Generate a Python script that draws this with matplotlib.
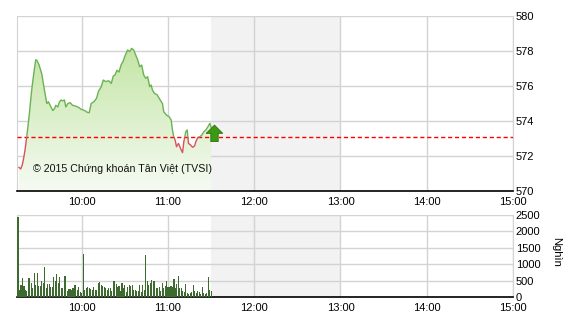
import numpy as np
import matplotlib
matplotlib.use("Agg")
import matplotlib.pyplot as plt
from matplotlib.patches import Rectangle
from matplotlib.path import Path

# price series (time in decimal hours, index value)
price_t = [9.273, 9.293, 9.312, 9.328, 9.343, 9.363, 9.390, 9.421, 9.444, 9.467,
           9.483, 9.506, 9.537, 9.567, 9.595, 9.614, 9.634, 9.665, 9.684, 9.700,
           9.723, 9.742, 9.762, 9.777, 9.800, 9.816, 9.840, 9.866, 9.893, 9.924,
           9.963, 9.994, 10.033, 10.064, 10.087, 10.110, 10.142, 10.172, 10.195, 10.227,
           10.250, 10.281, 10.312, 10.343, 10.366, 10.386, 10.409, 10.433, 10.456, 10.479,
           10.506, 10.533, 10.556, 10.579, 10.602, 10.626, 10.649, 10.672, 10.695, 10.719,
           10.742, 10.765, 10.788, 10.805, 10.820, 10.843, 10.874, 10.905, 10.936, 10.951,
           10.983, 11.014, 11.037, 11.052, 11.067, 11.084, 11.099, 11.122, 11.145, 11.169,
           11.184, 11.207, 11.223, 11.238, 11.262, 11.285, 11.308, 11.323, 11.347, 11.370,
           11.393, 11.416, 11.440, 11.463, 11.486, 11.500]
price = [571.35, 571.26, 571.5, 571.9, 572.34, 573.1, 574.25, 575.8, 576.7, 577.5,
         577.45, 577.2, 576.7, 575.8, 575.0, 575.1, 574.9, 574.6, 574.7, 574.9,
         574.8, 575.1, 575.2, 575.15, 575.2, 574.8, 575.0, 575.05, 574.9, 574.86,
         574.78, 574.67, 574.6, 574.5, 574.47, 575.0, 575.1, 575.3, 575.7, 575.96,
         576.34, 576.25, 576.3, 576.15, 576.57, 576.63, 576.9, 576.8, 577.2, 577.4,
         577.77, 578.06, 577.96, 578.15, 578.06, 577.77, 577.5, 577.1, 577.2, 576.63,
         576.44, 576.53, 575.96, 576.06, 575.77, 575.58, 575.5, 575.24, 575.0, 574.53,
         574.34, 574.24, 574.06, 573.49, 573.1, 572.9, 572.53, 572.72, 572.44, 572.19,
         572.82, 573.39, 573.49, 572.72, 572.63, 572.5, 572.57, 572.82, 573.07, 573.1,
         573.2, 573.39, 573.49, 573.67, 573.87, 573.64]
ref_price = 573.1

# volume (thousand shares), one bar per minute from 9:16 to 11:30
volume = [2450, 220, 375, 580, 350, 220, 190, 580, 580, 440, 270, 740, 375, 720, 350, 350,
          500, 430, 900, 270, 400, 400, 290, 320, 600, 500, 690, 430, 620, 270, 270, 655,
          655, 170, 240, 240, 220, 270, 375, 375, 220, 310, 145, 115, 1310, 220, 270, 290,
          270, 230, 200, 290, 200, 220, 415, 450, 375, 345, 310, 270, 200, 270, 270, 190,
          500, 500, 400,
          320, 345, 190, 430, 270, 375, 165, 290, 375, 345, 375, 220, 220, 190, 190, 375,
          165, 375, 220, 1290, 480, 375, 430, 530, 500, 500, 270, 270, 290, 190, 415, 270,
          345, 480, 290, 310, 345, 320, 560, 270, 400, 635, 270, 270, 190, 165, 405, 115,
          85, 115, 145, 375, 190, 115, 190, 165, 85, 290, 115, 85, 115, 600, 220, 190]
vol_t = np.linspace(9.262, 11.5, len(volume))

hours = [10, 11, 12, 13, 14, 15]
hour_labels = ["10:00", "11:00", "12:00", "13:00", "14:00", "15:00"]
price_ticks = [570, 572, 574, 576, 578, 580]
vol_ticks = [0, 500, 1000, 1500, 2000, 2500]

t0, t1 = 9.25, 15.0
grid_c = "#d3d3d3"

plt.rcParams["font.family"] = ["Liberation Sans", "DejaVu Sans"]
plt.rcParams["font.size"] = 8

fig = plt.figure(figsize=(5.7, 3.2), dpi=100)
ax = fig.add_axes([17 / 570, 1 - 191 / 320, 496 / 570, 175 / 320])
axv = fig.add_axes([17 / 570, 1 - 297 / 320, 496 / 570, 82 / 320])

for a in (ax, axv):
    a.set_xlim(t0, t1)
    a.axvspan(11.5, 13.0, color="#f2f2f2", zorder=0, lw=0)
    a.set_xticks(hours)
    a.set_xticklabels(hour_labels)
    a.yaxis.tick_right()
    a.tick_params(axis="both", length=0, pad=2, colors="black", labelsize=8)
    a.grid(True, color=grid_c, lw=1, zorder=1)
    a.set_axisbelow(True)
    for s in ("left", "right", "top"):
        a.spines[s].set_color(grid_c)
    a.spines["top"].set_visible(False)
    a.spines["bottom"].set_color("black")
    a.spines["bottom"].set_linewidth(1.2)

# price panel
ax.set_ylim(570, 580)
ax.set_yticks(price_ticks)
ax.set_yticklabels([str(v) for v in price_ticks])
ax.tick_params(axis="x", pad=4)

poly = ax.fill_between(price_t, price, 570, color="none", lw=0, zorder=2)
grad = np.linspace(0, 1, 256).reshape(-1, 1)
cmap = matplotlib.colors.LinearSegmentedColormap.from_list("g", ["#f6fbf3", "#c4e5a6"])
img = ax.imshow(grad, cmap=cmap, origin="lower", aspect="auto",
                extent=[price_t[0], price_t[-1], 570, max(price)], zorder=2)
img.set_clip_path(poly.get_paths()[0], transform=ax.transData)
ax.set_xlim(t0, t1)
ax.set_ylim(570, 580)

up, = ax.plot(price_t, price, color="#6cb255", lw=1, zorder=4)
up.set_clip_path(Rectangle((t0, ref_price), t1 - t0, 10, transform=ax.transData))
dn, = ax.plot(price_t, price, color="#d9535a", lw=1, zorder=4)
dn.set_clip_path(Rectangle((t0, 570), t1 - t0, ref_price - 570, transform=ax.transData))

ax.axhline(ref_price, color="#ff0000", lw=1, ls=(0, (3, 2)), zorder=3)

arrow = Path([(-1, -0.1), (0, 0.9), (1, -0.1), (0.45, -0.1), (0.45, -1.1),
              (-0.45, -1.1), (-0.45, -0.1), (-1, -0.1)])
ax.plot(price_t[-1] + 0.03, ref_price + 0.3, marker=arrow, ms=13, color="#3c9a12",
        mec="#2d6e0c", mew=0.6, zorder=5, clip_on=False)

ax.text(16 / 496, 22 / 175, "© 2015 Chứng khoán Tân Việt (TVSI)", transform=ax.transAxes,
        fontsize=7.7, color="#111111", va="center", ha="left", zorder=6)

# volume panel
axv.bar(vol_t, volume, width=0.0125, color="#3c6a2f", zorder=3, lw=0)
axv.set_ylim(0, 2500)
axv.set_yticks(vol_ticks)
axv.set_yticklabels([str(v) for v in vol_ticks])
axv.tick_params(axis="x", pad=4)
fig.text(556 / 570, 1 - 252 / 320, "Nghìn", rotation=270, ha="center", va="center",
         fontsize=8)

fig.savefig("out.png", dpi=100)
